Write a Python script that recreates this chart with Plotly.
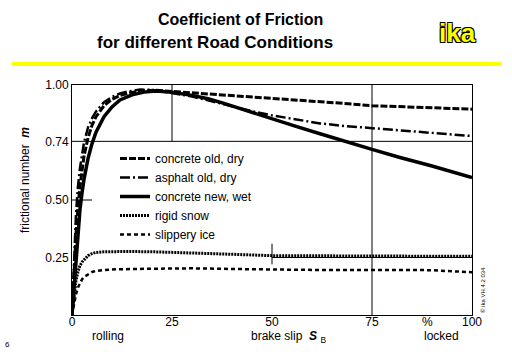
import plotly.graph_objects as go

# ---- data (brake slip in %, frictional number) ----
asphalt_x = [0, 0.5, 1, 1.5, 2, 3, 4, 5, 6, 8, 10, 12, 14, 17, 20, 25, 30, 34, 38, 42, 46, 50, 56, 62, 68, 75, 82, 90, 100]
asphalt_y = [0, 0.24, 0.44, 0.56, 0.64, 0.75, 0.815, 0.855, 0.885, 0.925, 0.948, 0.963, 0.972, 0.98, 0.979, 0.965, 0.95, 0.933, 0.915, 0.897, 0.882, 0.868, 0.85, 0.833, 0.822, 0.812, 0.802, 0.79, 0.778]

conc_old_x = [0, 0.5, 1, 1.5, 2, 3, 4, 5, 6, 8, 10, 12, 15, 18, 21, 25, 30, 36, 42, 50, 56, 62, 68, 75, 82, 90, 100]
conc_old_y = [0, 0.18, 0.35, 0.47, 0.56, 0.69, 0.77, 0.825, 0.862, 0.91, 0.938, 0.955, 0.968, 0.975, 0.977, 0.972, 0.966, 0.959, 0.952, 0.943, 0.936, 0.929, 0.92, 0.91, 0.905, 0.9, 0.895]

conc_wet_x = [0, 0.5, 1, 1.5, 2, 2.5, 3, 4, 5, 6, 8, 10, 12, 15, 18, 21, 25, 30, 34, 38, 42, 46, 50, 56, 62, 68, 75, 82, 90, 100]
conc_wet_y = [0, 0.12, 0.26, 0.37, 0.46, 0.53, 0.59, 0.68, 0.745, 0.795, 0.862, 0.905, 0.935, 0.957, 0.969, 0.974, 0.968, 0.955, 0.94, 0.92, 0.897, 0.875, 0.853, 0.82, 0.788, 0.755, 0.72, 0.685, 0.648, 0.597]

snow_x = [0, 0.5, 1, 1.5, 2, 2.5, 3, 4, 5, 6, 8, 10, 14, 20, 30, 40, 50, 60, 75, 90, 100]
snow_y = [0, 0.08, 0.15, 0.19, 0.215, 0.23, 0.24, 0.258, 0.267, 0.272, 0.275, 0.276, 0.276, 0.275, 0.271, 0.264, 0.258, 0.257, 0.256, 0.256, 0.255]

ice_x = [0, 0.5, 1, 1.5, 2, 2.5, 3, 4, 5, 6, 8, 10, 15, 20, 30, 40, 50, 60, 75, 90, 95, 100]
ice_y = [0, 0.05, 0.09, 0.12, 0.14, 0.155, 0.165, 0.178, 0.187, 0.192, 0.196, 0.198, 0.2, 0.202, 0.203, 0.2, 0.197, 0.196, 0.196, 0.195, 0.19, 0.186]

x_ticks = [0, 25, 50, 75, 100]
x_tick_labels = ["0", "25", "50", "75", "100"]
y_ticks = [0.25, 0.5, 0.755, 1.0]
y_tick_labels = ["0.25", "0.50", "0.74", "1.00"]

FONT = "Liberation Sans, Arial, sans-serif"
W, H = 512, 354
L, R, T, B = 72, 40, 85, 39
PW, PH = W - L - R, H - T - B


def px(x):
    return (x - L) / PW


def py(y):
    return (H - B - y) / PH


fig = go.Figure()
fig.add_trace(go.Scatter(x=conc_old_x, y=conc_old_y, mode="lines", name="concrete old, dry",
                         line=dict(color="black", width=3, dash="7px,2px")))
fig.add_trace(go.Scatter(x=asphalt_x, y=asphalt_y, mode="lines", name="asphalt old, dry",
                         line=dict(color="black", width=2.5, dash="10px,3px,2px,3px")))
fig.add_trace(go.Scatter(x=conc_wet_x, y=conc_wet_y, mode="lines", name="concrete new, wet",
                         line=dict(color="black", width=3.5)))
fig.add_trace(go.Scatter(x=snow_x, y=snow_y, mode="lines", name="rigid snow",
                         line=dict(color="black", width=3, dash="2px,1px")))
fig.add_trace(go.Scatter(x=ice_x, y=ice_y, mode="lines", name="slippery ice",
                         line=dict(color="black", width=2.5, dash="4px,3px")))

grid = dict(type="line", line=dict(color="black", width=1), layer="below", xref="x", yref="y")
shapes = [
    dict(grid, x0=25, x1=25, y0=0.755, y1=1.0),
    dict(grid, x0=75, x1=75, y0=0, y1=1.0),
    dict(grid, x0=50, x1=50, y0=0.22, y1=0.31),
    dict(grid, x0=0, x1=100, y0=0.755, y1=0.755),
    dict(grid, x0=0, x1=5, y0=0.5, y1=0.5),
    dict(grid, x0=50, x1=100, y0=0.25, y1=0.25),
    dict(type="line", xref="paper", yref="paper", x0=px(12), x1=px(502), y0=py(64), y1=py(64),
         line=dict(color="#FFFF00", width=4)),
]

ann = [
    dict(text="<b>Coefficient of Friction</b>", x=px(240), y=py(19), font=dict(size=16)),
    dict(text="<b>for different Road Conditions</b>", x=px(215), y=py(43), font=dict(size=17)),
    dict(text="<b>ika</b>", x=px(457), y=py(33),
         font=dict(size=26, color="#FFFF00",
                   shadow="1px 1px 0 #000, -1px -1px 0 #000, 1px -1px 0 #000, -1px 1px 0 #000")),
    dict(text="frictional number  <b><i>m</i></b>", x=px(25), y=py(180), textangle=-90, font=dict(size=12)),
    dict(text="brake slip  <b><i>S</i></b> <sub>B</sub>", x=px(288), y=py(337), font=dict(size=12)),
    dict(text="rolling", x=px(108), y=py(336), font=dict(size=12)),
    dict(text="locked", x=px(441), y=py(336), font=dict(size=12)),
    dict(text="%", x=px(427), y=py(322), font=dict(size=12)),
    dict(text="6", x=px(7), y=py(344), font=dict(size=8)),
    dict(text="© ika VH.4.2 034", x=px(483), y=py(290), textangle=-90, font=dict(size=6)),
]
for a in ann:
    a.update(xref="paper", yref="paper", showarrow=False, xanchor="center", yanchor="middle")
    a["font"].setdefault("color", "black")
    a["font"]["family"] = FONT

fig.update_layout(
    width=W, height=H, autosize=False,
    margin=dict(l=L, r=R, t=T, b=B, pad=0),
    paper_bgcolor="white", plot_bgcolor="white",
    font=dict(family=FONT, size=12, color="black"),
    showlegend=True,
    legend=dict(x=px(115), y=py(144), xanchor="left", yanchor="top",
                bgcolor="rgba(255,255,255,1)", borderwidth=0,
                font=dict(family=FONT, size=12, color="black"),
                tracegroupgap=0),
    shapes=shapes,
    annotations=ann,
    xaxis=dict(range=[0, 100], tickvals=x_ticks, ticktext=x_tick_labels, showgrid=False,
               zeroline=False, showline=True, mirror=True, linecolor="black", linewidth=1,
               ticks="", tickfont=dict(size=12), ticklabelstandoff=-4),
    yaxis=dict(range=[0, 1], tickvals=y_ticks, ticktext=y_tick_labels, showgrid=False,
               zeroline=False, showline=True, mirror=True, linecolor="black", linewidth=1,
               ticks="", tickfont=dict(size=12)),
)

fig.write_html("out.html")
